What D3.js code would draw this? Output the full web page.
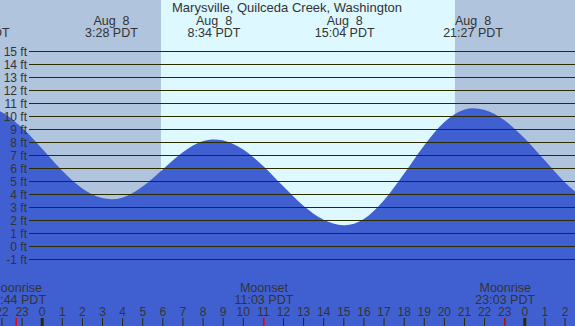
<!DOCTYPE html>
<html lang="en">
<head>
  <meta charset="UTF-8" />
  <title>Marysville, Quilceda Creek tides</title>
  <script src="https://d3js.org/d3.v7.min.js"></script>
  <style>
    body { margin: 0; background: #fff; }
    svg { display: block; font-family: "Liberation Sans", Arial, sans-serif; }
    text { fill: #333; white-space: pre; }
  </style>
</head>
<body>
  <div id="chart"></div>

  <script>
    // hours relative to Aug 8 00:00 PDT
    const tideHours = [-3.1, -3, -2, -1, 0, 1, 2, 3, 3.47, 4, 5, 6, 7, 8, 8.57, 9, 10, 11, 12, 13, 14, 15, 15.07,
                       16, 17, 18, 19, 20, 21, 21.45, 22, 23, 24, 25, 26, 27];
    const tideFeet  = [10.8, 10.8, 10.31, 9.13, 7.52, 5.83, 4.45, 3.69, 3.6, 3.72, 4.55, 5.87, 7.2, 8.06, 8.2, 8.13, 7.44, 6.17, 4.61, 3.12, 2.03, 1.6, 1.6,
                       2.06, 3.49, 5.52, 7.7, 9.5, 10.49, 10.6, 10.48, 9.69, 8.31, 6.61, 4.93, 3.59];

    const extremeHours = [-3.08, 3.47, 8.57, 15.07, 21.45];
    const extremeDates = ["Aug  7", "Aug  8", "Aug  8", "Aug  8", "Aug  8"];
    const extremeTimes = ["20:55 PDT", "3:28 PDT", "8:34 PDT", "15:04 PDT", "21:27 PDT"];

    const sunrise = 5.93, sunset = 20.55;

    const moonHours = [-1.27, 11.05, 23.05];
    const moonNames = ["Moonrise", "Moonset", "Moonrise"];
    const moonTimes = ["22:44 PDT", "11:03 PDT", "23:03 PDT"];

    const feetTicks = d3.range(-1, 16);
    const hourTicks = d3.range(-2, 27);

    const W = 575, H = 326;
    const x = d3.scaleLinear().domain([0, 24]).range([41.7, 524.3]);
    const y = d3.scaleLinear().domain([-1, 15]).range([259, 51]);

    const svg = d3.select("#chart").append("svg")
      .attr("width", W).attr("height", H);

    // night / day background
    svg.append("rect").attr("width", W).attr("height", H).attr("fill", "#b0c4de");
    svg.append("rect")
      .attr("x", x(sunrise)).attr("y", 0)
      .attr("width", x(sunset) - x(sunrise)).attr("height", H)
      .attr("fill", "#ddf8ff");

    // water
    const tide = tideHours.map((h, i) => ({ h, ft: tideFeet[i] }));
    const area = d3.area()
      .x(d => x(d.h)).y0(H).y1(d => y(d.ft))
      .curve(d3.curveMonotoneX);
    svg.append("path").datum(tide)
      .attr("fill", "#4060d2")
      .attr("d", area);

    // feet grid
    const grid = svg.append("g");
    grid.selectAll("line").data(feetTicks).enter().append("line")
      .attr("x1", 29).attr("x2", W)
      .attr("y1", d => Math.round(y(d)) + 0.5).attr("y2", d => Math.round(y(d)) + 0.5)
      .attr("stroke", "#2b2b00").attr("stroke-width", 1);
    grid.selectAll("text").data(feetTicks).enter().append("text")
      .attr("x", 27).attr("y", d => y(d) + 4.5)
      .attr("text-anchor", "end")
      .style("font-size", "12px")
      .text(d => d + " ft");

    // title
    svg.append("text")
      .attr("x", 287).attr("y", 12)
      .attr("text-anchor", "middle")
      .style("font-size", "13px")
      .text("Marysville, Quilceda Creek, Washington");

    // high / low labels
    const ext = svg.append("g").selectAll("g").data(extremeHours).enter().append("g");
    ext.append("text")
      .attr("x", d => x(d)).attr("y", 24.5)
      .attr("text-anchor", "middle").style("font-size", "12.5px")
      .text((d, i) => extremeDates[i]);
    ext.append("text")
      .attr("x", d => x(d)).attr("y", 36.5)
      .attr("text-anchor", "middle").style("font-size", "12.5px")
      .text((d, i) => extremeTimes[i]);

    // moon labels
    const moon = svg.append("g").selectAll("g").data(moonHours).enter().append("g");
    moon.append("text")
      .attr("x", d => x(d)).attr("y", 291.5)
      .attr("text-anchor", "middle").style("font-size", "12.5px")
      .text((d, i) => moonNames[i]);
    moon.append("text")
      .attr("x", d => x(d)).attr("y", 303.5)
      .attr("text-anchor", "middle").style("font-size", "12.5px")
      .text((d, i) => moonTimes[i]);

    // hour axis
    const axis = svg.append("g")
      .attr("transform", `translate(0,${H})`)
      .call(d3.axisTop(x).tickValues(hourTicks).tickSize(8).tickPadding(2)
        .tickFormat(h => ((h % 24) + 24) % 24));
    axis.select(".domain").remove();
    axis.selectAll("text")
      .style("font-size", "12px")
      .style("font-family", "'Liberation Sans', Arial, sans-serif")
      .attr("fill", "#333");
    axis.selectAll(".tick line")
      .attr("stroke", "#2b2b00")
      .attr("stroke-width", d => d % 24 === 0 ? 3 : 1);

    // moon ticks
    svg.append("g").selectAll("line").data(moonHours).enter().append("line")
      .attr("x1", d => x(d)).attr("x2", d => x(d))
      .attr("y1", H - 8).attr("y2", H)
      .attr("stroke", "#ff0000").attr("stroke-width", 1.5);
  </script>
</body>
</html>
